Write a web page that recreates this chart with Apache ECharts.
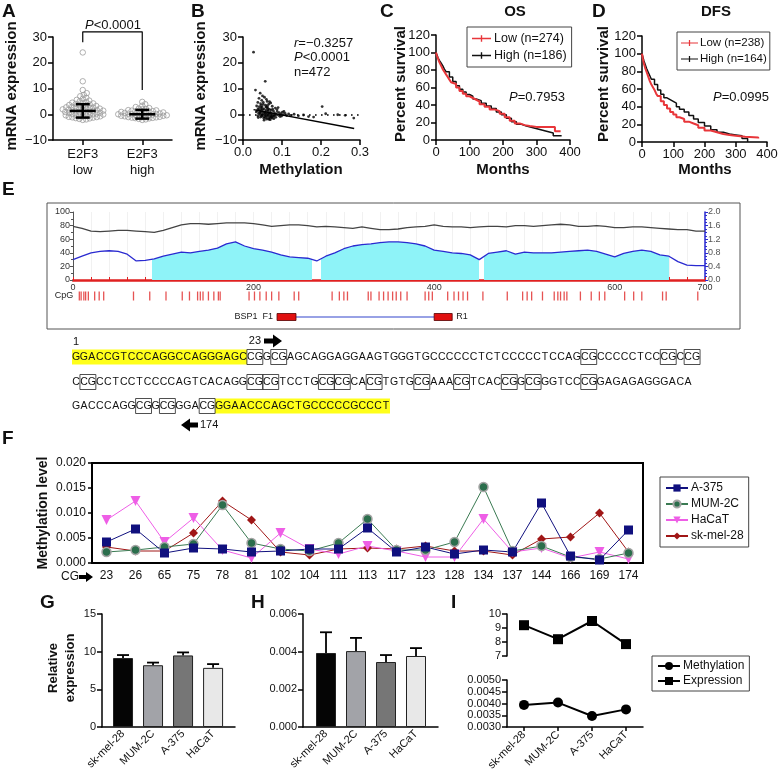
<!DOCTYPE html>
<html><head><meta charset="utf-8">
<script src="https://cdn.jsdelivr.net/npm/echarts@6/dist/echarts.min.js"></script>
<style>html,body{margin:0;padding:0;background:#fff}#c{width:779px;height:777px}</style>
</head><body><div id="c"></div>
<script>
const FONT = "'Liberation Sans', Arial, Helvetica, sans-serif";

// ---------- Panel A ----------
const aGroups = ['E2F3\nlow', 'E2F3\nhigh'];
const aLowValues = [24.0, 12.8, 9.4, 8.2, 7.5, 7.0, 6.4, 6.0, 5.6, 5.3, 5.0, 4.7, 4.5, 4.2, 4.0, 3.8, 3.6, 3.4, 3.2, 3.0, 2.9, 2.7, 2.5, 2.4, 2.2, 2.0, 1.9, 1.7, 1.6, 1.4, 1.3, 1.1, 1.0, 0.9, 0.7, 0.6, 0.4, 0.3, 0.2, 0.0, -0.1, -0.2, -0.4, -0.5, -0.6, -0.8, -0.9, -1.0, -1.2, -1.3, -1.5, -1.6, -1.8, -2.0, -2.2, 0.5, 1.5, 2.6, 3.5, -0.3, 0.8, 1.8, -1.1, 4.4, 2.1];
const aHighValues = [4.8, 3.9, 3.3, 2.8, 2.4, 2.1, 1.9, 1.6, 1.4, 1.2, 1.0, 0.8, 0.7, 0.5, 0.4, 0.2, 0.1, 0.0, -0.1, -0.3, -0.4, -0.6, -0.7, -0.9, -1.0, -1.2, -1.3, -1.5, -1.6, -1.8, -2.0, -2.2, 0.6, -0.5, 1.1, -1.1, 0.3, -0.8, 0.9, -0.2, 1.5, -1.4, 2.2, 0.0, -0.6];
const aMean = [1.3, 0.0];
const aSD = [2.6, 1.7];
const aBracketX = [0, 0, 1, 1];
const aBracketY = [28, 32, 32, 9.4];

// ---------- Panel B ----------
const bPoints = [[0.027,24.1],[0.057,12.8],[0.032,9.4],[0.044,8.2],[0.05,7.1],[0.041,6.2],[0.055,6.6],[0.048,5.4],[0.062,5.0],[0.038,4.6],[0.071,4.4],[0.045,4.1],[0.052,3.8],[0.058,3.5],[0.066,3.9],[0.035,3.2],[0.042,3.0],[0.049,2.8],[0.061,2.6],[0.075,3.1],[0.083,2.4],[0.039,2.2],[0.054,2.1],[0.068,1.9],[0.047,1.7],[0.059,1.5],[0.072,1.6],[0.036,1.4],[0.043,1.2],[0.051,1.0],[0.064,1.1],[0.078,1.3],[0.088,1.0],[0.046,0.8],[0.056,0.6],[0.063,0.4],[0.07,0.7],[0.081,0.5],[0.093,0.6],[0.04,0.3],[0.053,0.2],[0.06,0.1],[0.067,0.0],[0.074,0.2],[0.086,-0.1],[0.097,0.1],[0.044,-0.2],[0.05,-0.4],[0.057,-0.3],[0.065,-0.5],[0.073,-0.3],[0.08,-0.6],[0.091,-0.4],[0.103,-0.2],[0.048,-0.8],[0.055,-1.0],[0.062,-0.9],[0.069,-1.1],[0.077,-0.8],[0.084,-1.2],[0.058,-1.4],[0.066,-1.6],[0.072,-1.3],[0.079,-1.7],[0.061,-1.9],[0.07,-2.1],[0.053,-1.5],[0.045,-1.1],[0.038,-0.6],[0.034,0.9],[0.095,-0.9],[0.101,0.8],[0.108,0.3],[0.112,-0.5],[0.117,0.1],[0.122,-0.4],[0.131,0.0],[0.142,-0.6],[0.155,-0.3],[0.168,-0.9],[0.181,-1.1],[0.203,3.0],[0.212,0.2],[0.243,-0.2],[0.262,-0.4],[0.284,-1.5],[0.059,2.9],[0.064,2.3],[0.052,4.6],[0.047,3.4],[0.076,2.0],[0.087,1.8],[0.09,2.6],[0.067,-2.0],[0.075,-1.5],[0.082,-0.2],[0.099,-0.7],[0.105,1.1],[0.043,0.5],[0.058,-0.6],[0.071,-0.7],[0.064,1.7],[0.05,1.9],[0.039,-1.3],[0.06,5.8],[0.068,4.9],[0.054,-2.3],[0.046,2.5],[0.063,3.2],[0.057,0.9],[0.069,0.4],[0.049,-0.1],[0.041,1.8],[0.074,-0.9]];
const bFitLine = [[0.027, 1.8], [0.285, -5.5]];

// ---------- Panel C / D (Kaplan-Meier) ----------
const osLowT = [0,3,6,10,15,20,25,30,35,40,45,50,60,70,80,90,100,110,120,130,145,160,175,190,205,220,235,250,265,280,300,355,372];
const osLowS = [100,96,93,89,85,81,78,75,72,69,66,64,60,56,53,50,48,46,44,41,38,35,33,30,26,22,19,17,16,15,15,10,10];
const osHighT = [0,3,6,10,15,20,25,30,40,50,60,70,80,90,100,110,120,135,150,165,180,195,210,225,240,255,270,290,310,330,350,375];
const osHighS = [100,97,94,91,88,85,81,78,72,67,62,58,55,52,50,47,45,42,39,36,32,29,25,21,18,16,14,12,10,8,5,5];
const dfsLowT = [0,3,6,10,15,20,25,30,35,40,45,50,60,70,80,90,100,110,120,135,150,165,180,200,220,240,260,280,300,330,372];
const dfsLowS = [100,94,89,84,79,74,69,65,62,59,55,52,46,42,38,34,31,28,26,23,21,19,16,13,11,9,8,7,6,5,4];
const dfsHighT = [0,3,6,10,15,20,25,30,40,50,60,70,80,90,100,110,120,135,150,165,180,200,220,240,260,280,300,320,338];
const dfsHighS = [100,96,92,88,83,79,75,71,65,59,54,50,48,46,44,40,37,34,30,26,22,18,14,11,9,8,7,4,0];

// ---------- Panel E ----------
const ePos = [0,10,20,30,40,50,60,70,80,90,100,110,120,130,140,150,160,170,180,190,200,210,220,230,240,250,260,270,280,290,300,310,320,330,340,350,360,370,380,390,400,410,420,430,440,450,460,470,480,490,500,510,520,530,540,550,560,570,580,590,600,610,620,630,640,650,660,670,680,690,700];
const eGC = [79,76,72,71,72,73,73,72,71,70,73,77,81,83,83,82,83,84,84,84,83,81,79,80,81,81,80,78,79,78,77,76,78,76,74,74,75,77,78,79,81,79,78,78,77,78,79,79,78,80,80,79,80,81,82,81,79,79,80,79,77,77,78,78,77,76,75,74,74,72,72];
const eObsExp = [0.60,0.70,0.80,0.84,0.86,0.84,0.76,0.56,0.58,0.62,0.70,0.76,0.82,0.80,0.84,0.88,0.94,1.06,1.12,1.00,0.92,0.88,0.82,0.74,0.68,0.66,0.64,0.56,0.70,0.80,0.92,1.00,1.04,1.06,1.10,1.12,1.12,1.10,1.06,1.00,0.88,0.84,0.80,0.78,0.74,0.60,0.78,0.82,0.86,0.76,0.82,0.80,0.80,0.80,0.82,0.84,0.86,0.88,0.84,0.76,0.68,0.78,0.84,0.88,0.84,0.74,0.70,0.54,0.44,0.42,0.42];
const eIslands = [[88,265],[275,450],[455,660]];
const eCpG = [7,9,12,14,17,24,29,34,67,85,103,121,129,138,141,144,150,156,161,163,195,201,207,214,220,228,245,250,287,295,300,304,327,330,339,344,349,354,358,363,370,390,394,398,415,422,427,432,437,454,481,498,503,508,520,533,537,540,544,547,562,574,583,589,611,621,630,653,657,692];
const ePrimerF = [226, 247];
const ePrimerR = [400, 420];
const seqLines = [
  'GGACCGTCCCAGGCCAGGGAGCCGGCGAGCAGGAGGAAGTGGGTGCCCCCCTCTCCCCCTCCAGCGCCCCCTCCCGCCG',
  'CCGCCTCCTCCCCAGTCACAGGCGCGTCCTGCGCGCACGTGTGCGAAACGTCACCGGCGGGTCCCGGAGAGAGGGACA',
  'GACCCAGGCGGCGGGACGGGAACCCAGCTGCCCCCGCCCT'
];
const seqLineStart = [1, 80, 158];
const seqPrimers = [[0, 0, 22], [2, 18, 40]];

// ---------- Panel F ----------
const cgSites = ['23','26','65','75','78','81','102','104','111','113','117','123','128','134','137','144','166','169','174'];
const fA375 = [0.0042,0.0068,0.0020,0.0030,0.0028,0.0022,0.0024,0.0028,0.0028,0.0070,0.0022,0.0032,0.0018,0.0026,0.0022,0.0120,0.0014,0.0006,0.0066];
const fMUM2C = [0.0022,0.0026,0.0032,0.0038,0.0116,0.0040,0.0028,0.0024,0.0040,0.0088,0.0026,0.0026,0.0042,0.0152,0.0024,0.0034,0.0012,0.0008,0.0020];
const fHaCaT = [0.0086,0.0124,0.0042,0.0090,0.0026,0.0010,0.0060,0.0028,0.0018,0.0034,0.0024,0.0012,0.0012,0.0088,0.0022,0.0030,0.0010,0.0022,0.0008];
const fSkMel = [0.0032,0.0024,0.0024,0.0060,0.0124,0.0086,0.0022,0.0016,0.0028,0.0030,0.0028,0.0034,0.0024,0.0024,0.0016,0.0048,0.0052,0.0100,0.0022];

// ---------- Panels G / H / I ----------
const cellLines = ['sk-mel-28', 'MUM-2C', 'A-375', 'HaCaT'];
const barColors = ['#050505', '#a2a3a8', '#767676', '#e8e8e8'];
const gExpr = [9.15, 8.2, 9.5, 7.85];
const gErr = [0.4, 0.35, 0.4, 0.5];
const hMeth = [0.00393, 0.00403, 0.00345, 0.00377];
const hErr = [0.0011, 0.0007, 0.00037, 0.00042];
const iExpr = [9.2, 8.2, 9.5, 7.85];
const iMeth = [0.00394, 0.00404, 0.00347, 0.00375];

// ================== build ==================
const chart = echarts.init(document.getElementById('c'), null, {renderer: 'canvas'});

function swarm(vals, yScale, xScale, d) {
  const sorted = vals.slice().sort((a, b) => a - b);
  const placed = [], out = [];
  for (const v of sorted) {
    const y = v * yScale; let best = 0;
    for (let k = 0; k < 400; k++) {
      const cand = (k % 2 === 1 ? 1 : -1) * Math.ceil(k / 2) * 0.5;
      let ok = true;
      for (const p of placed) {
        const dy = p[1] - y;
        if (Math.abs(dy) < d) { const dx = p[0] - cand; if (dx * dx + dy * dy < d * d) { ok = false; break; } }
      }
      if (ok) { best = cand; break; }
    }
    placed.push([best, y]); out.push([best / xScale, v]);
  }
  return out;
}
const aYScale = 103 / 40, aXScale = 119 / 2;
const aLowPts = swarm(aLowValues, aYScale, aXScale, 3.3);
const aHighPts = swarm(aHighValues, aYScale, aXScale, 3.3).map(p => [p[0] + 1, p[1]]);

const blackLine = {show: true, onZero: false, lineStyle: {color: '#000', width: 1.5}};
const blackTick = {show: true, length: 5, lineStyle: {color: '#000', width: 1.5}};
function lab(size, extra) { return Object.assign({color: '#111', fontSize: size, fontFamily: FONT, margin: 5}, extra || {}); }
const noSplit = {show: false};
const minusFmt = v => String(v).replace('-', '\u2212');

const grids = [
  {left: 53, top: 37, width: 119, height: 103},   // 0 A
  {left: 243, top: 37, width: 117, height: 103},  // 1 B
  {left: 436, top: 35, width: 134, height: 105},  // 2 C
  {left: 642, top: 36, width: 125, height: 106},  // 3 D
  {left: 73, top: 212, width: 632, height: 68},   // 4 E main
  {left: 73, top: 292, width: 632, height: 8},    // 5 E CpG
  {left: 73, top: 311, width: 632, height: 12},   // 6 E primer
  {left: 92, top: 463, width: 551, height: 100, show: true, borderColor: '#000', borderWidth: 2}, // 7 F
  {left: 102, top: 614, width: 133, height: 113}, // 8 G
  {left: 303, top: 614, width: 135, height: 113}, // 9 H
  {left: 507, top: 614, width: 136, height: 42},  // 10 I top
  {left: 507, top: 680, width: 136, height: 47}   // 11 I bottom
].map(g => Object.assign({outerBoundsMode: 'none', containLabel: false}, g));

const xAxes = [
  {gridIndex: 0, type: 'value', min: -0.5, max: 1.5, axisLine: blackLine,
   axisTick: Object.assign({}, blackTick, {customValues: [0, 1]}),
   axisLabel: lab(13, {customValues: [0, 1], formatter: v => aGroups[Math.round(v)], lineHeight: 16, margin: 6}), splitLine: noSplit},
  {gridIndex: 1, type: 'value', min: 0, max: 0.3, interval: 0.1, axisLine: blackLine, axisTick: blackTick,
   axisLabel: lab(13, {formatter: v => v.toFixed(1), margin: 6}), splitLine: noSplit},
  {gridIndex: 2, type: 'value', min: 0, max: 400, interval: 100, axisLine: blackLine, axisTick: blackTick, axisLabel: lab(13, {margin: 6}), splitLine: noSplit},
  {gridIndex: 3, type: 'value', min: 0, max: 400, interval: 100, axisLine: blackLine, axisTick: blackTick, axisLabel: lab(13, {margin: 6}), splitLine: noSplit},
  {gridIndex: 4, type: 'value', min: 0, max: 700, interval: 20,
   axisLine: {show: true, onZero: false, lineStyle: {color: '#e02020', width: 2.5}},
   axisTick: {show: true, inside: true, length: 3, lineStyle: {color: '#e02020', width: 1}},
   axisLabel: {color: '#333', fontSize: 9, fontFamily: FONT, margin: 3, formatter: v => (v % 200 === 0 || v === 700) ? String(v) : ''},
   splitLine: {show: true, lineStyle: {color: '#f1f1f1', width: 1}}},
  {gridIndex: 5, type: 'value', min: 0, max: 700, show: false},
  {gridIndex: 6, type: 'value', min: 0, max: 700, show: false},
  {gridIndex: 7, type: 'category', data: cgSites, boundaryGap: true, axisLine: {show: true, onZero: false, lineStyle: {color: '#000', width: 2}},
   axisTick: {show: false}, axisLabel: lab(12, {margin: 7, interval: 0})},
  {gridIndex: 8, type: 'value', min: -0.7, max: 3.73, axisLine: blackLine, axisTick: {show: false},
   axisLabel: lab(11, {customValues: [0, 1, 2, 3], formatter: v => cellLines[Math.round(v)], rotate: 45, margin: 5}), splitLine: noSplit},
  {gridIndex: 9, type: 'value', min: -0.767, max: 3.733, axisLine: blackLine, axisTick: {show: false},
   axisLabel: lab(11, {customValues: [0, 1, 2, 3], formatter: v => cellLines[Math.round(v)], rotate: 45, margin: 5}), splitLine: noSplit},
  {gridIndex: 10, type: 'category', data: cellLines, boundaryGap: true, show: false},
  {gridIndex: 11, type: 'category', data: cellLines, boundaryGap: true, axisLine: blackLine,
   axisTick: Object.assign({}, blackTick, {alignWithLabel: true, length: 4}), axisLabel: lab(11, {rotate: 45, margin: 6, interval: 0})}
];

const yAxes = [
  {gridIndex: 0, type: 'value', min: -10, max: 30, interval: 10, axisLine: blackLine, axisTick: blackTick, axisLabel: lab(13, {formatter: minusFmt, margin: 6}), splitLine: noSplit},
  {gridIndex: 1, type: 'value', min: -10, max: 30, interval: 10, axisLine: blackLine, axisTick: blackTick, axisLabel: lab(13, {formatter: minusFmt, margin: 6}), splitLine: noSplit},
  {gridIndex: 2, type: 'value', min: 0, max: 120, interval: 20, axisLine: blackLine, axisTick: blackTick, axisLabel: lab(13, {margin: 6}), splitLine: noSplit},
  {gridIndex: 3, type: 'value', min: 0, max: 120, interval: 20, axisLine: blackLine, axisTick: blackTick, axisLabel: lab(13, {margin: 6}), splitLine: noSplit},
  {gridIndex: 4, type: 'value', min: 0, max: 100, interval: 20, axisLine: {show: true, onZero: false, lineStyle: {color: '#555', width: 1}},
   axisTick: {show: true, length: 3, lineStyle: {color: '#555'}}, minorTick: {show: true, splitNumber: 2, length: 2, lineStyle: {color: '#555'}},
   axisLabel: {color: '#333', fontSize: 9, fontFamily: FONT, margin: 3}, splitLine: noSplit},
  {gridIndex: 4, type: 'value', position: 'right', min: 0, max: 2, interval: 0.4, axisLine: {show: true, onZero: false, lineStyle: {color: '#2a2ad0', width: 1.5}},
   axisTick: {show: true, length: 3, lineStyle: {color: '#2a2ad0'}}, minorTick: {show: true, splitNumber: 4, length: 2, lineStyle: {color: '#2a2ad0'}},
   axisLabel: {color: '#555', fontSize: 9, fontFamily: FONT, margin: 3, formatter: v => v.toFixed(1)}, splitLine: noSplit},
  {gridIndex: 5, type: 'value', min: 0, max: 1, show: false},
  {gridIndex: 6, type: 'value', min: 0, max: 1, show: false},
  {gridIndex: 7, type: 'value', min: 0, max: 0.02, interval: 0.005, axisLine: {show: true, onZero: false, lineStyle: {color: '#000', width: 2}},
   axisTick: {show: true, length: 4, lineStyle: {color: '#000', width: 1.5}}, axisLabel: lab(12, {formatter: v => v.toFixed(3), margin: 6}), splitLine: noSplit},
  {gridIndex: 8, type: 'value', min: 0, max: 15, interval: 5, axisLine: blackLine, axisTick: blackTick, axisLabel: lab(11, {margin: 6}), splitLine: noSplit},
  {gridIndex: 9, type: 'value', min: 0, max: 0.006, interval: 0.002, axisLine: blackLine, axisTick: blackTick, axisLabel: lab(11, {formatter: v => v.toFixed(3), margin: 6}), splitLine: noSplit},
  {gridIndex: 10, type: 'value', min: 7, max: 10, interval: 1, axisLine: blackLine, axisTick: blackTick, axisLabel: lab(11, {margin: 6}), splitLine: noSplit},
  {gridIndex: 11, type: 'value', min: 0.003, max: 0.005, interval: 0.0005, axisLine: blackLine, axisTick: blackTick, axisLabel: lab(11, {formatter: v => v.toFixed(4), margin: 6}), splitLine: noSplit}
];

const zip = (a, b) => a.map((v, i) => [v, b[i]]);
const series = [];

// A
series.push({type: 'scatter', xAxisIndex: 0, yAxisIndex: 0, data: aLowPts.concat(aHighPts), symbol: 'circle', symbolSize: 5.5,
  itemStyle: {color: 'rgba(255,255,255,0)', borderColor: '#9c9c9c', borderWidth: 1}, silent: true, z: 2});
series.push({type: 'custom', xAxisIndex: 0, yAxisIndex: 0, data: aMean.map((m, i) => [i, m, aSD[i]]), z: 5,
  renderItem: (p, api) => {
    const x = api.value(0), m = api.value(1), sd = api.value(2);
    const c = api.coord([x, m]), t = api.coord([x, m + sd]), b = api.coord([x, m - sd]);
    const st = {stroke: '#000', lineWidth: 2.5};
    return {type: 'group', children: [
      {type: 'line', shape: {x1: c[0], y1: t[1], x2: c[0], y2: b[1]}, style: st},
      {type: 'line', shape: {x1: c[0] - 13, y1: c[1], x2: c[0] + 13, y2: c[1]}, style: st},
      {type: 'line', shape: {x1: c[0] - 7, y1: t[1], x2: c[0] + 7, y2: t[1]}, style: st},
      {type: 'line', shape: {x1: c[0] - 7, y1: b[1], x2: c[0] + 7, y2: b[1]}, style: st}]};
  }});
series.push({type: 'line', xAxisIndex: 0, yAxisIndex: 0, data: zip(aBracketX, aBracketY), symbol: 'none', clip: false,
  lineStyle: {color: '#000', width: 1.2}, silent: true});

// B
series.push({type: 'scatter', xAxisIndex: 1, yAxisIndex: 1, data: bPoints, symbolSize: 2.8, itemStyle: {color: '#000'}, silent: true,
  markLine: {silent: true, symbol: 'none', label: {show: false}, data: [{yAxis: 0}], lineStyle: {color: '#000', type: [1.6, 4.4], width: 1.6}}});
series.push({type: 'line', xAxisIndex: 1, yAxisIndex: 1, data: bFitLine, symbol: 'none', lineStyle: {color: '#000', width: 1.5}, silent: true});

// C, D
function km(name, xi, T, S, color, w, z) {
  return {name, type: 'line', xAxisIndex: xi, yAxisIndex: xi, data: zip(T, S), step: 'end', symbol: 'none', z,
    lineStyle: {color, width: w}, itemStyle: {color}, silent: true};
}
series.push(km('High (n=186)', 2, osHighT, osHighS, '#111', 1.5, 2));
series.push(km('Low (n=274)', 2, osLowT, osLowS, '#e8363a', 2, 3));
series.push(km('High (n=164)', 3, dfsHighT, dfsHighS, '#111', 1.5, 2));
series.push(km('Low (n=238)', 3, dfsLowT, dfsLowS, '#e8363a', 2, 3));

// E
const eFillIndex = series.length;
series.push({type: 'line', xAxisIndex: 4, yAxisIndex: 5, data: zip(ePos, eObsExp), symbol: 'none', lineStyle: {width: 0},
  areaStyle: {opacity: 1}, silent: true, z: 1});
series.push({type: 'line', xAxisIndex: 4, yAxisIndex: 5, data: zip(ePos, eObsExp), symbol: 'none', lineStyle: {color: '#2a2ad0', width: 1.3}, silent: true, z: 3});
series.push({type: 'line', xAxisIndex: 4, yAxisIndex: 4, data: zip(ePos, eGC), symbol: 'none', lineStyle: {color: '#444', width: 1.3}, silent: true, z: 3});
series.push({type: 'scatter', xAxisIndex: 5, yAxisIndex: 6, data: eCpG.map(p => [p, 0.5]), symbol: 'rect', symbolSize: [1.3, 9],
  itemStyle: {color: '#e02828'}, silent: true});
series.push({type: 'custom', xAxisIndex: 6, yAxisIndex: 7, data: [[0, 0.5]], clip: false, silent: true,
  renderItem: (p, api) => {
    const y = api.coord([0, 0.5])[1];
    const f0 = api.coord([ePrimerF[0], 0.5])[0], f1 = api.coord([ePrimerF[1], 0.5])[0];
    const r0 = api.coord([ePrimerR[0], 0.5])[0], r1 = api.coord([ePrimerR[1], 0.5])[0];
    const ts = {fontSize: 9, fontFamily: FONT, fill: '#222', verticalAlign: 'middle'};
    return {type: 'group', children: [
      {type: 'line', shape: {x1: f1, y1: y, x2: r0, y2: y}, style: {stroke: '#3344cc', lineWidth: 1.2}},
      {type: 'rect', shape: {x: f0, y: y - 3.5, width: f1 - f0, height: 7}, style: {fill: '#e01010', stroke: '#500', lineWidth: 0.8}},
      {type: 'rect', shape: {x: r0, y: y - 3.5, width: r1 - r0, height: 7}, style: {fill: '#e01010', stroke: '#500', lineWidth: 0.8}},
      {type: 'text', x: f0 - 4, y: y, style: Object.assign({text: 'BSP1  F1', align: 'right'}, ts)},
      {type: 'text', x: r1 + 4, y: y, style: Object.assign({text: 'R1', align: 'left'}, ts)}]};
  }});

// F
function fs(name, data, color, symbol, size, extra) {
  return Object.assign({name, type: 'line', xAxisIndex: 7, yAxisIndex: 8, data, symbol, symbolSize: size,
    lineStyle: {color, width: 1}, itemStyle: {color}, silent: true}, extra || {});
}
series.push(fs('sk-mel-28', fSkMel, '#a01616', 'diamond', 9));
series.push(fs('HaCaT', fHaCaT, '#ee5ee6', 'triangle', 10, {symbolRotate: 180}));
series.push(fs('MUM-2C', fMUM2C, '#2b6e4c', 'circle', 9, {itemStyle: {color: '#2b6e4c', borderColor: '#a5a5a5', borderWidth: 1.5}, lineStyle: {color: '#3a7a52', width: 1}}));
series.push(fs('A-375', fA375, '#10107e', 'rect', 9));

// G, H bars + error bars
function errBar(xi, vals, errs) {
  return {type: 'custom', xAxisIndex: xi, yAxisIndex: xi + 1, data: vals.map((v, i) => [i, v, errs[i]]), z: 1, silent: true,
    renderItem: (p, api) => {
      const x = api.value(0), v = api.value(1), e = api.value(2);
      const a = api.coord([x, v]), b = api.coord([x, v + e]);
      const st = {stroke: '#000', lineWidth: 1.8};
      return {type: 'group', children: [
        {type: 'line', shape: {x1: a[0], y1: a[1], x2: b[0], y2: b[1]}, style: st},
        {type: 'line', shape: {x1: b[0] - 6, y1: b[1], x2: b[0] + 6, y2: b[1]}, style: st}]};
    }};
}
series.push(errBar(8, gExpr, gErr));
series.push({type: 'bar', xAxisIndex: 8, yAxisIndex: 9, barWidth: 20, silent: true, z: 2,
  data: gExpr.map((v, i) => ({value: [i, v], itemStyle: {color: barColors[i], borderColor: '#222', borderWidth: 1}}))});
series.push(errBar(9, hMeth, hErr));
series.push({type: 'bar', xAxisIndex: 9, yAxisIndex: 10, barWidth: 20, silent: true, z: 2,
  data: hMeth.map((v, i) => ({value: [i, v], itemStyle: {color: barColors[i], borderColor: '#222', borderWidth: 1}}))});

// I
series.push({name: 'Expression', type: 'line', xAxisIndex: 10, yAxisIndex: 11, data: iExpr, symbol: 'rect', symbolSize: 10,
  lineStyle: {color: '#000', width: 2}, itemStyle: {color: '#000'}, silent: true});
series.push({name: 'Methylation', type: 'line', xAxisIndex: 11, yAxisIndex: 12, data: iMeth, symbol: 'circle', symbolSize: 10,
  lineStyle: {color: '#000', width: 2}, itemStyle: {color: '#000'}, silent: true});

// ---------- legends ----------
const kmIcon = 'path://M0,4L22,4L22,5.6L0,5.6Z M10.2,1L11.8,1L11.8,8.6L10.2,8.6Z';
const legBase = {orient: 'vertical', borderColor: '#444', borderWidth: 1, backgroundColor: '#fff', selectedMode: false};
const legends = [
  Object.assign({}, legBase, {left: 467, top: 27, padding: [5, 5, 5, 5], itemGap: 4, itemWidth: 19, itemHeight: 8, icon: kmIcon,
    data: ['Low (n=274)', 'High (n=186)'], textStyle: {fontSize: 12.5, fontFamily: FONT, color: '#111', padding: [0, 0, 0, -2]}}),
  Object.assign({}, legBase, {left: 677, top: 32, padding: [5, 3, 5, 4], itemGap: 4, itemWidth: 17, itemHeight: 8, icon: kmIcon,
    data: ['Low (n=238)', 'High (n=164)'], textStyle: {fontSize: 11.5, fontFamily: FONT, color: '#111', padding: [0, 0, 0, -3]}}),
  Object.assign({}, legBase, {left: 660, top: 477, padding: [5, 5, 5, 5], itemGap: 4, itemWidth: 22, itemHeight: 9,
    data: ['A-375', 'MUM-2C', 'HaCaT', 'sk-mel-28'], textStyle: {fontSize: 12, fontFamily: FONT, color: '#111', padding: [0, 0, 0, -2]}}),
  Object.assign({}, legBase, {left: 652, top: 656, padding: [4, 5, 4, 5], itemGap: 3, itemWidth: 22, itemHeight: 10,
    data: ['Methylation', 'Expression'], textStyle: {fontSize: 12, fontFamily: FONT, color: '#111', padding: [0, 0, 0, -2]}})
];

// ---------- graphic text / annotations ----------
const G = [];
function txt(x, y, text, size, opts) {
  G.push(Object.assign({type: 'text', x, y, silent: true, style: Object.assign({text, fontSize: size, fontFamily: FONT, fill: '#111',
    align: 'center', verticalAlign: 'middle'}, (opts && opts.style) || {})}, (opts && opts.el) || {}));
}
const bold = {fontWeight: 'bold'};
[['A', 2, 12], ['B', 191, 12], ['C', 380, 12], ['D', 592, 12], ['E', 2, 190], ['F', 2, 439], ['G', 40, 603], ['H', 251, 603], ['I', 451, 603]]
  .forEach(l => txt(l[1], l[2], l[0], 19, {style: {fontWeight: 'bold', align: 'left'}}));
txt(515, 12, 'OS', 15, {style: bold});
txt(716, 12, 'DFS', 15, {style: bold});
const rot = {rotation: Math.PI / 2};
txt(12, 86, 'mRNA expression', 15, {style: bold, el: rot});
txt(201, 86, 'mRNA expression', 15, {style: bold, el: rot});
txt(401, 84, 'Percent survival', 15, {style: bold, el: rot});
txt(604, 84, 'Percent survival', 15, {style: bold, el: rot});
txt(301, 170, 'Methylation', 15, {style: bold});
txt(503, 170, 'Months', 15, {style: bold});
txt(705, 170, 'Months', 15, {style: bold});
txt(43, 513, 'Methylation level', 14, {style: bold, el: rot});
txt(62, 668, 'Relative\nexpression', 13, {style: Object.assign({lineHeight: 17}, bold), el: rot});
function richP(x, y, rest, align) {
  G.push({type: 'text', x, y, silent: true, style: {text: '{i|P}' + rest, fontSize: 13, fontFamily: FONT, fill: '#111', align: align || 'center', verticalAlign: 'middle',
    rich: {i: {fontStyle: 'italic', fontSize: 13, fontFamily: FONT, fill: '#111'}}}});
}
richP(113, 25, '<0.0001');
G.push({type: 'text', x: 294, y: 43, silent: true, style: {text: '{i|r}=\u22120.3257', fontSize: 13, fontFamily: FONT, fill: '#111', align: 'left', verticalAlign: 'middle',
  rich: {i: {fontStyle: 'italic', fontSize: 13, fontFamily: FONT, fill: '#111'}}}});
richP(294, 57, '<0.0001', 'left');
txt(294, 72, 'n=472', 13, {style: {align: 'left'}});
richP(537, 97, '=0.7953');
richP(741, 97, '=0.0995');

// E box and labels
G.push({type: 'rect', silent: true, shape: {x: 47, y: 203, width: 693, height: 126}, style: {fill: 'none', stroke: '#555', lineWidth: 1}, z: -1});
txt(64, 296, 'CpG', 9, {style: {fill: '#222'}});

// sequence
const SX = 72, ADV = 7.95, SY = [357, 382, 406];
seqPrimers.forEach(pr => {
  G.push({type: 'rect', silent: true, z: -1, shape: {x: SX + pr[1] * ADV, y: SY[pr[0]] - 7.5, width: (pr[2] - pr[1]) * ADV, height: 15}, style: {fill: '#ffff1a'}});
});
cgSites.map(Number).forEach(p => {
  let li = 0; for (let k = 0; k < seqLineStart.length; k++) if (p >= seqLineStart[k]) li = k;
  const i = p - seqLineStart[li];
  G.push({type: 'rect', silent: true, shape: {x: SX + i * ADV, y: SY[li] - 7.5, width: 2 * ADV, height: 15}, style: {fill: 'none', stroke: '#222', lineWidth: 0.8}});
});
seqLines.forEach((s, li) => {
  for (let i = 0; i < s.length; i++) {
    G.push({type: 'text', silent: true, x: SX + (i + 0.5) * ADV, y: SY[li], style: {text: s[i], fontSize: 10.5, fontFamily: FONT, fill: '#111', align: 'center', verticalAlign: 'middle'}});
  }
});
txt(76, 342, '1', 11);
txt(261, 341, '23', 11, {style: {align: 'right'}});
G.push({type: 'polygon', silent: true, shape: {points: [[264, 338.5], [273, 338.5], [273, 334.5], [282, 341], [273, 347.5], [273, 343.5], [264, 343.5]]}, style: {fill: '#000'}});
txt(200, 425, '174', 11, {style: {align: 'left'}});
G.push({type: 'polygon', silent: true, shape: {points: [[198, 422.5], [190, 422.5], [190, 418.5], [181, 425], [190, 431.5], [190, 427.5], [198, 427.5]]}, style: {fill: '#000'}});

// F "CG ->"
txt(70, 577, 'CG', 12);
G.push({type: 'polygon', silent: true, shape: {points: [[79, 575], [86, 575], [86, 572], [93, 577], [86, 582], [86, 579], [79, 579]]}, style: {fill: '#000'}});

chart.setOption({
  animation: false,
  textStyle: {fontFamily: FONT},
  grid: grids, xAxis: xAxes, yAxis: yAxes, series, legend: legends,
  visualMap: [{type: 'piecewise', show: false, dimension: 0, seriesIndex: eFillIndex,
    pieces: eIslands.map(r => ({gte: r[0], lte: r[1], color: '#8ef3f8'})), outOfRange: {color: 'rgba(255,255,255,0)'}}],
  graphic: G
});
</script></body></html>
